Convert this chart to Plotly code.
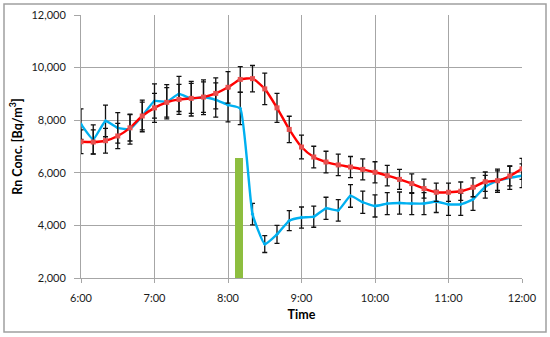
import plotly.graph_objects as go

times = ["2020-01-01 %02d:%02d" % (6 + (i * 10) // 60, (i * 10) % 60) for i in range(37)]

red_vals = [7180, 7170, 7220, 7400, 7710, 8160, 8470, 8680, 8790, 8830, 8880, 9020,
            9250, 9550, 9580, 9190, 8470, 7650, 6980, 6600, 6410, 6300, 6220, 6130,
            6020, 5890, 5750, 5590, 5400, 5260, 5260, 5300, 5450, 5660, 5700, 5880, 6150]
red_err = [450, 460, 470, 480, 500, 530, 550, 560, 570, 570, 580, 590,
           600, 490, 500, 600, 550, 500, 450, 410, 410, 410, 400, 400,
           400, 390, 380, 370, 360, 350, 350, 350, 360, 370, 370, 380, 400]

blue_vals = [7850, 7270, 7970, 7710, 7660, 8160, 8730, 8700, 9000, 8820, 8870, 8770,
             8580, 8450, 4430, 3290, 3660, 4180, 4300, 4330, 4650, 4570, 5120, 4880,
             4740, 4830, 4850, 4830, 4830, 4910, 4800, 4800, 4990, 5470, 5700, 5810, 5890]
blue_err = [580, 550, 600, 580, 570, 600, 650, 650, 670, 660, 660, 650,
            640, 620, 410, 320, 340, 380, 400, 400, 420, 410, 430, 420,
            420, 420, 420, 420, 420, 420, 420, 420, 420, 430, 440, 440, 450]

green_time = ["2020-01-01 08:09"]
green_top = [6550]
green_base = 2000

fig = go.Figure()

fig.add_trace(go.Bar(
    x=green_time, y=[green_top[0] - green_base], base=[green_base],
    width=[7 * 60 * 1000], marker=dict(color="#8DBE3F", line=dict(width=0)),
    showlegend=False, hoverinfo="skip"))

err_style = dict(type="data", visible=True, color="#111111", thickness=1.3, width=2.5)

fig.add_trace(go.Scatter(
    x=times, y=blue_vals, mode="lines+markers",
    line=dict(color="#00B0F0", width=2.4, shape="spline", smoothing=0.4),
    marker=dict(color="#00B0F0", size=3, symbol="diamond"),
    error_y=dict(array=blue_err, **err_style), showlegend=False))

fig.add_trace(go.Scatter(
    x=times, y=red_vals, mode="lines+markers",
    line=dict(color="#FF0000", width=2.4, shape="spline", smoothing=0.6),
    marker=dict(color="#E8504F", size=5, symbol="square"),
    error_y=dict(array=red_err, **err_style), showlegend=False))

FONT = "Lato, Open Sans, Liberation Sans, sans-serif"
axis_font = dict(family=FONT, size=11, color="#1a1a1a")
title_font = dict(family=FONT, size=12.5, color="#000")

fig.update_layout(
    width=550, height=337,
    margin=dict(l=81, r=28, t=15, b=59),
    paper_bgcolor="white", plot_bgcolor="white",
    bargap=0,
    xaxis=dict(
        type="date", automargin=False,
        range=["2020-01-01 06:00", "2020-01-01 12:00"],
        dtick=3600000, tick0="2020-01-01 06:00",
        tickformat="%-H:%M",
        showgrid=True, gridcolor="#A6A6A6", gridwidth=1,
        showline=True, linecolor="#A6A6A6", linewidth=1,
        ticks="outside", ticklen=4, tickcolor="#A6A6A6",
        ticklabelstandoff=6,
        tickfont=axis_font, zeroline=False,
        title=dict(text="<b>Time</b>", font=title_font, standoff=7),
    ),
    yaxis=dict(
        automargin=False,
        range=[2000, 12000], dtick=2000, tickformat=",",
        showgrid=True, gridcolor="#A6A6A6", gridwidth=1,
        showline=True, linecolor="#A6A6A6", linewidth=1,
        ticks="outside", ticklen=6, tickcolor="#A6A6A6",
        ticklabelstandoff=6,
        tickfont=axis_font, zeroline=False,
        title=dict(text="<b>Rn Conc. [Bq/m<sup>3</sup>]</b>", font=title_font, standoff=6),
    ),
    shapes=[dict(type="rect", xref="paper", yref="paper",
                 x0=(4 - 81) / 441, x1=(546 - 81) / 441,
                 y0=(278 - 332) / 263, y1=(278 - 4) / 263,
                 line=dict(color="#A0A0A0", width=1.5), layer="above")],
)

fig.write_html("out.html", config={"displayModeBar": False},
               post_script="document.body.style.margin='0';")
